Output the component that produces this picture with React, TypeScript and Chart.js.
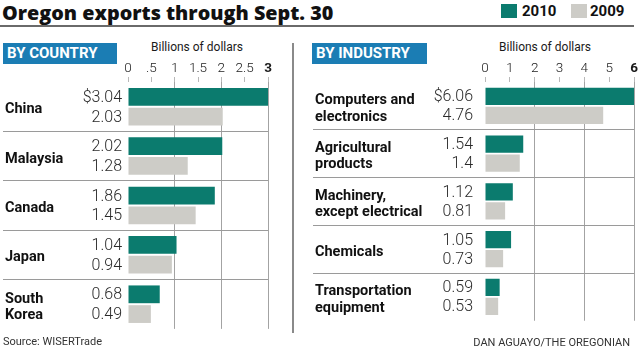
import React, { useEffect, useRef } from "react";
import { Chart, registerables } from "chart.js";
Chart.register(...registerables);

const countries: string[][] = [["China"], ["Malaysia"], ["Canada"], ["Japan"], ["South", "Korea"]];
const country2010 = [3.04, 2.02, 1.86, 1.04, 0.68];
const country2009 = [2.03, 1.28, 1.45, 0.94, 0.49];
const countryTicks = ["0", ".5", "1", "1.5", "2", "2.5", "3"];

const industries: string[][] = [
  ["Computers and", "electronics"],
  ["Agricultural", "products"],
  ["Machinery,", "except electrical"],
  ["Chemicals"],
  ["Transportation", "equipment"],
];
const industry2010 = [6.06, 1.54, 1.12, 1.05, 0.59];
const industry2009 = [4.76, 1.4, 0.81, 0.73, 0.53];
const industryTicks = ["0", "1", "2", "3", "4", "5", "6"];

const seriesNames = ["2010", "2009"];

const TEAL = "#0b7b6e";
const GRAY = "#cdccc7";
const GRID = "#a3a3a3";
const SEP = "#9a9a9a";
const BLUE = "#1b7db4";
const FONT = "Roboto, 'Open Sans', sans-serif";

type PanelCfg = {
  labels: string[][];
  d10: number[];
  d09: number[];
  ticks: string[];
  max: number;
  step: number;
  gridEvery: number;
  axisWidth: number;
  sepLen: number;
  padLeft: number;
  padRight: number;
  valueGap: number;
};

const valueLabels = {
  id: "valueLabels",
  afterDatasetsDraw(chart: any, _args: any, opts: any) {
    const ctx = chart.ctx;
    const left = chart.chartArea.left;
    ctx.save();
    ctx.font = `300 16px ${FONT}`;
    ctx.fillStyle = "#2a2a2a";
    ctx.textAlign = "right";
    ctx.textBaseline = "middle";
    chart.data.datasets.forEach((ds: any, di: number) => {
      const meta = chart.getDatasetMeta(di);
      meta.data.forEach((bar: any, i: number) => {
        const v = ds.data[i];
        const txt = (di === 0 && i === 0 ? "$" : "") + String(v);
        ctx.fillText(txt, left - opts.gap, bar.y + 1);
      });
    });
    ctx.restore();
  },
};

function makeConfig(p: PanelCfg): any {
  return {
    type: "bar",
    data: {
      labels: p.labels,
      datasets: [
        { label: seriesNames[0], data: p.d10, backgroundColor: TEAL, barPercentage: 0.9, categoryPercentage: 0.8 },
        { label: seriesNames[1], data: p.d09, backgroundColor: GRAY, barPercentage: 0.9, categoryPercentage: 0.8 },
      ],
    },
    options: {
      indexAxis: "y",
      animation: false,
      responsive: false,
      devicePixelRatio: 1,
      layout: { padding: { left: p.padLeft, right: p.padRight, top: 8, bottom: 5 } },
      plugins: {
        legend: { display: false },
        tooltip: { enabled: false },
        valueLabels: { gap: p.valueGap },
      },
      scales: {
        x: {
          position: "top",
          min: 0,
          max: p.max,
          afterFit: (s: any) => {
            s.height = 44;
          },
          border: { display: false },
          grid: {
            color: (c: any) =>
              c.tick && c.tick.value > 0 && Math.abs(c.tick.value % p.gridEvery) < 1e-9 ? GRID : "rgba(0,0,0,0)",
            tickColor: "#b8b8b8",
            tickLength: 5,
            lineWidth: 1,
          },
          ticks: {
            stepSize: p.step,
            padding: 0,
            color: "#1a1a1a",
            font: (c: any) => ({
              family: FONT,
              size: 13.5,
              weight: c.tick && c.tick.value === p.max ? "bold" : "300",
            }),
            callback: (_v: any, i: number) => p.ticks[i],
            maxRotation: 0,
          },
          title: { display: false },
        },
        y: {
          afterFit: (s: any) => {
            s.width = p.axisWidth;
          },
          border: { display: false },
          grid: {
            offset: true,
            color: (c: any) => (c.type === "tick" && c.index > 0 ? SEP : "rgba(0,0,0,0)"),
            tickLength: p.sepLen,
            lineWidth: 1,
          },
          ticks: {
            crossAlign: "far",
            autoSkip: false,
            labelOffset: 3,
            color: "#111",
            font: { family: FONT, size: 14.5, weight: "bold", lineHeight: 1.12 },
          },
        },
      },
    },
    plugins: [valueLabels],
  };
}

function Panel({ cfg, left, width }: { cfg: PanelCfg; left: number; width: number }) {
  const ref = useRef<HTMLCanvasElement>(null);
  useEffect(() => {
    if (!ref.current) return;
    const ch = new Chart(ref.current, makeConfig(cfg));
    return () => ch.destroy();
  }, []);
  return (
    <canvas
      ref={ref}
      width={width}
      height={310}
      style={{ position: "absolute", left, top: 30, width, height: 310 }}
    />
  );
}

const boxStyle: React.CSSProperties = {
  position: "absolute",
  top: 43,
  height: 21,
  width: 114,
  background: BLUE,
  color: "#fff",
  fontFamily: FONT,
  fontWeight: 700,
  fontSize: 15,
  lineHeight: "21px",
  paddingLeft: 4,
  boxSizing: "border-box",
};

const axisTitleStyle: React.CSSProperties = {
  position: "absolute",
  top: 39,
  width: 120,
  textAlign: "center",
  fontFamily: FONT,
  fontSize: 12,
  lineHeight: "16px",
  color: "#1a1a1a",
};

export default function App() {
  const countryCfg: PanelCfg = {
    labels: countries,
    d10: country2010,
    d09: country2009,
    ticks: countryTicks,
    max: 3,
    step: 0.5,
    gridEvery: 1,
    axisWidth: 123,
    sepLen: 125,
    padLeft: 5,
    padRight: 24,
    valueGap: 6,
  };
  const industryCfg: PanelCfg = {
    labels: industries,
    d10: industry2010,
    d09: industry2009,
    ticks: industryTicks,
    max: 6,
    step: 1,
    gridEvery: 2,
    axisWidth: 170,
    sepLen: 172,
    padLeft: 15,
    padRight: 6,
    valueGap: 12,
  };
  return (
    <div
      style={{
        position: "fixed",
        left: 0,
        top: 0,
        width: 640,
        height: 358,
        background: "#fff",
        overflow: "hidden",
      }}
    >
      <div
        style={{
          position: "absolute",
          left: 2,
          top: 0,
          fontFamily: "'Open Sans', Roboto, sans-serif",
          fontWeight: 800,
          fontSize: 19.8,
          lineHeight: "26px",
          color: "#111",
          whiteSpace: "nowrap",
        }}
      >
        Oregon exports through Sept. 30
      </div>
      <div style={{ position: "absolute", left: 0, top: 25, width: 634, height: 2, background: "#6a6a6a" }} />
      <div style={{ position: "absolute", left: 501, top: 4, width: 16, height: 14, background: TEAL }} />
      <div
        style={{
          position: "absolute",
          left: 522,
          top: 1,
          fontFamily: FONT,
          fontWeight: 700,
          fontSize: 15,
          lineHeight: "20px",
          color: "#111",
        }}
      >
        {seriesNames[0]}
      </div>
      <div style={{ position: "absolute", left: 571, top: 4, width: 16, height: 14, background: GRAY }} />
      <div
        style={{
          position: "absolute",
          left: 590,
          top: 1,
          fontFamily: FONT,
          fontWeight: 700,
          fontSize: 15,
          lineHeight: "20px",
          color: "#111",
        }}
      >
        {seriesNames[1]}
      </div>
      <div style={{ ...boxStyle, left: 3 }}>BY COUNTRY</div>
      <div style={{ ...boxStyle, left: 312, width: 115 }}>BY INDUSTRY</div>
      <div style={{ ...axisTitleStyle, left: 137 }}>Billions of dollars</div>
      <div style={{ ...axisTitleStyle, left: 485 }}>Billions of dollars</div>
      <div style={{ position: "absolute", left: 292, top: 43, width: 2, height: 290, background: "#8a8a8a" }} />
      <Panel cfg={countryCfg} left={0} width={292} />
      <Panel cfg={industryCfg} left={300} width={340} />
      <div
        style={{
          position: "absolute",
          left: 3,
          top: 335,
          fontFamily: FONT,
          fontSize: 11,
          lineHeight: "14px",
          color: "#333",
        }}
      >
        Source: WISERTrade
      </div>
      <div
        style={{
          position: "absolute",
          right: 10,
          top: 336,
          fontFamily: FONT,
          fontSize: 11,
          lineHeight: "14px",
          color: "#333",
          letterSpacing: 0,
        }}
      >
        DAN AGUAYO/THE OREGONIAN
      </div>
    </div>
  );
}
